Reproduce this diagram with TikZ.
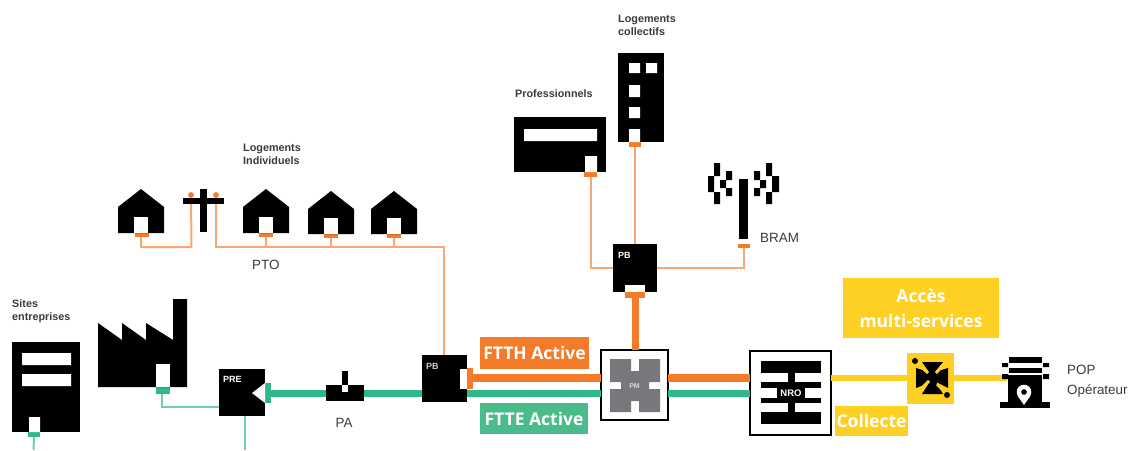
\documentclass[tikz,border=0pt]{standalone}
\usepackage{fontspec}
\setmainfont{Liberation Sans}
\newfontfamily\labelfont{Open Sans}[BoldFont={Open Sans Bold}]
\definecolor{ora}{HTML}{F47B2A}
\definecolor{orathin}{HTML}{F8A86E}
\definecolor{grn}{HTML}{2FB98A}
\definecolor{grnthin}{HTML}{72CFAC}
\definecolor{grnbox}{HTML}{4CBB8C}
\definecolor{yel}{HTML}{FFD024}
\definecolor{pmgrey}{HTML}{77787B}
\definecolor{txt}{HTML}{3A3A3A}
\newcommand{\rn}[6]{\node[inner sep=0pt,outer sep=0pt,minimum width={(#4-#2)*1pt},minimum height={(#5-#3)*1pt},#6] (#1) at ({(#2+#4)/2},{(#3+#5)/2}) {};}
\newcommand{\rnt}[7]{\node[inner sep=0pt,outer sep=0pt,align=center,minimum width={(#4-#2)*1pt},minimum height={(#5-#3)*1pt},#6] (#1) at ({(#2+#4)/2},{(#3+#5)/2}) {#7};}
\tikzset{
  blk/.style={fill=black,draw=none},
  wht/.style={fill=white,draw=none},
  oplate/.style={fill=ora,draw=none},
  gplate/.style={fill=grn,draw=none},
  thinor/.style={draw=orathin,line width=2pt},
  thingr/.style={draw=grnthin,line width=2pt},
  thickor/.style={draw=ora,line width=7.5pt},
  thickgr/.style={draw=grn,line width=7pt},
  thickye/.style={draw=yel,line width=6.5pt},
  small/.style={font=\fontsize{10.8}{13}\selectfont\bfseries,text=txt,align=left,anchor=west,inner sep=0pt},
  plain/.style={font=\fontsize{13.4}{20}\selectfont,text=txt,align=left,inner sep=0pt},
  inlabel/.style={font=\fontsize{9}{10}\selectfont\bfseries,text=white,inner sep=0pt},
  banner/.style={font=\labelfont\fontsize{17.5}{25}\selectfont\bfseries,text=white},
}
\begin{document}
\begin{tikzpicture}[x=1pt,y=-1pt]
\useasboundingbox (0,0) rectangle (1129,450);
% anchor points of the buildings and boxes
\rn{sites}{12}{342}{80}{432}{blk}
\rn{sitesp}{28}{432}{40}{437}{gplate}
\coordinate (sitesend) at (33.5,450);
\rn{factp}{156}{387}{170}{394}{gplate}
\rnt{pre}{219}{369}{265}{416}{blk}{}
\coordinate (preend) at (245,450);
\coordinate (factc) at (162,407);
\rn{pa}{326}{385}{364}{401}{blk}
\rn{pb}{422}{355}{467}{402}{blk}
\rn{pbt}{467}{368}{473}{389}{oplate}
\rn{pret}{265}{383}{271}{403}{gplate}
\rn{pm}{601}{350}{668}{420}{wht,draw=black,line width=1.8pt}
\rn{nro}{750}{351}{831}{435}{wht,draw=black,line width=2pt}
\rn{pbb}{613}{244}{657}{292}{blk}
\rn{pbbt}{625}{292}{645}{298}{oplate}
\rn{ms}{907}{353}{954}{404}{fill=yel}
\coordinate (popin) at (1007,378);
% houses' plates
\rn{h1p}{135}{233}{149}{237}{oplate}
\rn{h2p}{259}{233}{273}{237}{oplate}
\rn{h3p}{324}{234}{338}{238}{oplate}
\rn{h4p}{387}{234}{401}{238}{oplate}
\node[circle,fill=ora,inner sep=0pt,minimum size=5.5pt] (pl) at (191,195) {};
\node[circle,fill=ora,inner sep=0pt,minimum size=5.5pt] (pr) at (216,195) {};
\coordinate (c1) at (141,247);
\coordinate (c2) at (191.5,247);
\coordinate (c3) at (216,247);
\coordinate (c4) at (444,247);
\coordinate (b2) at (266,247);
\coordinate (b3) at (331,247);
\coordinate (b4) at (394,247);
\rn{towerp}{629}{142}{641}{147}{oplate}
\rn{prop}{584}{172}{597}{177}{oplate}
\rn{mastp}{738}{244}{750}{248}{oplate}
% thin connectors
\draw[thingr] (sitesp.south) -- (sitesend);
\draw[thingr] (factp.south -| factc) -- (factc) -- (pre.west |- factc);
\draw[thingr] (pre.south -| preend) -- (preend);
\draw[thinor,line join=round] (h1p.south -| c1) -- (c1) -- (c2) -- (pl.center);
\draw[thinor] (pr.center) -- (c3) -- (c4) -- (pb.north -| c4);
\draw[thinor] (h2p.south) -- (b2);
\draw[thinor] (h3p.south) -- (b3);
\draw[thinor] (h4p.south) -- (b4);
\draw[thinor] (towerp.south) -- (pbb.north -| towerp);
\draw[thinor] (prop.south) |- (pbb.west);
\draw[thinor] (pbb.east) -| (mastp.south);
% thick connectors
\draw[thickgr] (pret.east) -- (pa.west);
\draw[thickgr] (pa.east) -- (pb.west |- pa.east);
\draw[thickgr] (pb.east |- 0,393) -- (pm.west |- 0,393);
\draw[thickgr] (pm.east |- 0,393) -- (nro.west |- 0,393);
\draw[thickor] (pbt.east |- 0,378) -- (pm.west |- 0,378);
\draw[thickor] (pm.east |- 0,378) -- (nro.west |- 0,378);
\draw[draw=ora,line width=7pt] (pbbt.south) -- (pm.north -| pbbt);
\draw[thickye] (nro.east |- 0,378) -- (ms.west |- 0,378);
\draw[thickye] (ms.east |- 0,378) -- (popin);
% Sites entreprises
\fill[white] (22,353) rectangle (71,365) (22,374) rectangle (71,386) (29,417) rectangle (40,432);
\fill (98,323) -- (122,340) -- (122,323) -- (146,340) -- (146,323) -- (173,340) -- (173,299) -- (187,299) -- (187,387) -- (98,387) -- cycle;
\fill[white] (156,364) rectangle (170,387);
% PRE, PA, PB details
\fill[white] (252,393) -- (265,383) -- (265,403) -- cycle;
\fill (342,371) rectangle (348,385);
\fill[white] (342,385) rectangle (348,392);
\fill[white] (460,369) rectangle (467,389);
\fill[white] (625,285) rectangle (645,292);
% PM
\fill[pmgrey] (610,359) -- (631,359) -- (631,371) -- (639,371) -- (639,359) -- (660,359) -- (660,382) -- (649,382) -- (649,389) -- (660,389) -- (660,412) -- (639,412) -- (639,401) -- (631,401) -- (631,412) -- (610,412) -- (610,389) -- (621,389) -- (621,382) -- (610,382) -- cycle;
% NRO
\fill (761,361) rectangle (821,373);
\fill (761,412) rectangle (821,424);
\fill (761,382) rectangle (821,388);
\fill (761,398) rectangle (821,403);
\fill (777,382) rectangle (805,403);
\fill (788,373) rectangle (795,412);
% houses
\foreach \cx/\ty/\by in {141/189/233,266/189/233,331/191/234,394/191/234}{
  \fill (\cx-23,\ty+18) -- (\cx,\ty) -- (\cx+23,\ty+18) -- (\cx+23,\by) -- (\cx-23,\by) -- cycle;
  \fill[white] (\cx-7,\by-16) rectangle (\cx+7,\by);
}
% pole
\fill (200,189) rectangle (207,232);
\fill (183,198) rectangle (224,204);
\node[circle,fill=ora,inner sep=0pt,minimum size=5.5pt] at (pl) {};
\node[circle,fill=ora,inner sep=0pt,minimum size=5.5pt] at (pr) {};
% tower
\fill (618,53) rectangle (664,142);
\fill[white] (629,63) rectangle (640,73) (646,63) rectangle (657,73) (629,85) rectangle (640,97) (629,107) rectangle (640,118) (629,129) rectangle (640,142);
% professionnels
\fill (514,117) rectangle (606,172);
\fill[white] (524,129) rectangle (597,141) (585,156) rectangle (597,172);
% BRAM antenna
\fill (739,179) rectangle (748,239);
\fill (714,163) rectangle (720,176) (708,176) rectangle (714,192) (714,192) rectangle (720,204)
      (726,171) rectangle (732,180) (720,180) rectangle (726,188) (726,188) rectangle (732,196)
      (754,171) rectangle (760,180) (760,180) rectangle (766,188) (754,188) rectangle (760,196)
      (766,163) rectangle (772,176) (772,176) rectangle (779,192) (766,192) rectangle (772,204);
% multi-service icon
\fill (922,362) -- (943,362) -- (935,372) -- (948,368) -- (948,388) -- (936,382) -- (943,394) -- (922,394) -- (929,383) -- (916,388) -- (916,368) -- (929,372) -- cycle;
\draw[yel,line width=3pt] (915,361) -- (928,373) (948,395) -- (937,384) (943,365) -- (936,373) (922,388) -- (929,381);
\fill (915,361) circle (3pt) (947,395) circle (3pt);
% POP
\fill (1009,357) rectangle (1042,363);
\fill (1009,368) rectangle (1042,373);
\fill (1008,375) rectangle (1042,402);
\fill (1000,402) rectangle (1050,408);
\fill (1002,363) rectangle (1008,367) (1043,363) rectangle (1049,367) (1002,374) rectangle (1008,379) (1043,374) rectangle (1049,379);
\fill[white] (1024,392) circle (7.3pt);
\fill[white] (1017.7,396) -- (1024,405) -- (1030.3,396) -- cycle;
\fill (1024,392) circle (2.8pt);
% banners
\rnt{ftth}{480}{337}{589}{369}{fill=ora,banner}{FTTH Active}
\rnt{ftte}{480}{403}{588}{434}{fill=grnbox,banner}{FTTE Active}
\rnt{acces}{843}{278}{999}{338}{fill=yel,banner}{Accès\\multi-services}
\rnt{coll}{835}{406}{908}{436}{fill=yel,banner}{Collecte}
% texts
\node[inlabel,anchor=west] (tpre) at (223,379) {PRE};
\node[inlabel,anchor=west,text=white!80!black] (tpb) at (426,366) {PB};
\node[inlabel,anchor=west] (tpb2) at (618,255) {PB};
\node[inlabel,text=white!85!black,font=\fontsize{7}{8}\selectfont\bfseries] (tpm) at (634.5,386) {PM};
\node[inlabel,font=\fontsize{9.5}{10}\selectfont\bfseries] (tnro) at (791,393) {NRO};
\node[small] (t1) at (12,311) {Sites\\entreprises};
\node[small] (t2) at (243,154.5) {Logements\\Individuels};
\node[small] (t3) at (618,25.5) {Logements\\collectifs};
\node[small] (t4) at (515,94) {Professionnels};
\node[plain,anchor=west] (t5) at (252,265) {PTO};
\node[plain,anchor=center] (t6) at (344,423) {PA};
\node[plain,anchor=west] (t7) at (760,238) {BRAM};
\node[plain,anchor=west] (t8) at (1067,381) {POP\\Opérateur};
\end{tikzpicture}
\end{document}
